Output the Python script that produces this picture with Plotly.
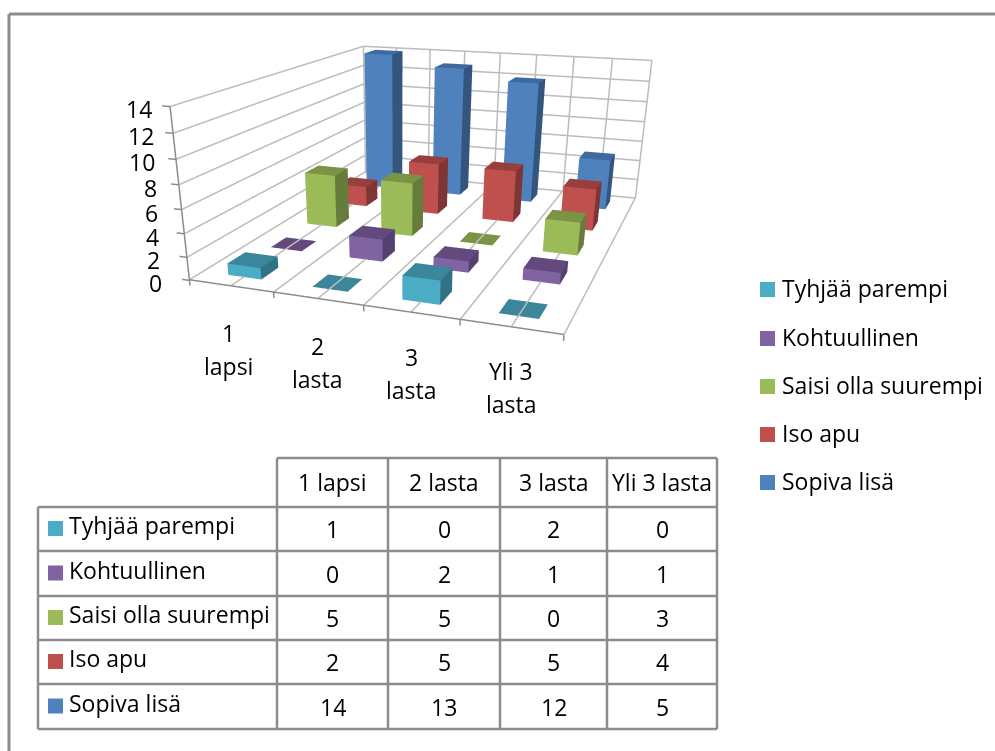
import plotly.graph_objects as go

WIDTH, HEIGHT = 995, 751

categories = ["1 lapsi", "2 lasta", "3 lasta", "Yli 3 lasta"]
category_lines = [["1", "lapsi"], ["2", "lasta"], ["3", "lasta"], ["Yli 3", "lasta"]]
series_names = ["Tyhjää parempi", "Kohtuullinen", "Saisi olla suurempi", "Iso apu", "Sopiva lisä"]
tyhjaa = [1, 0, 2, 0]
kohtuullinen = [0, 2, 1, 1]
saisi = [5, 5, 0, 3]
iso_apu = [2, 5, 5, 4]
sopiva = [14, 13, 12, 5]
series_values = [tyhjaa, kohtuullinen, saisi, iso_apu, sopiva]
z_ticks = [0, 2, 4, 6, 8, 10, 12, 14]

front_colors = ["#4BACC6", "#8064A2", "#9BBB59", "#C0504D", "#4F81BD"]
top_colors = ["#3B869B", "#64497F", "#7A9345", "#973F3D", "#3E6AA0"]
side_colors = ["#327286", "#54416F", "#667C3B", "#7F3533", "#34557D"]

# scene box: one unit per category / series, padded so tick marks are not clipped
X_RANGE, Y_RANGE, Z_RANGE = (-0.4, 4.4), (-0.4, 5.4), (-1, 15)
KX, KY, KZ = 0.25, 0.24337, 0.03210
EYE = dict(x=0.8166, y=-2.5247, z=0.6373)
CENTER = dict(x=0.0658, y=-0.5311, z=-0.4428)
SCENE_RIGHT_PX = 799.36

BAR = 0.2          # half width of a column in category units
FLOOR = 0.06       # floor lines sit just above the zero-height columns

traces = []
for j, vals in enumerate(series_values):
    xs, ys, zs, I, J, K, fc = [], [], [], [], [], [], []
    for i, v in enumerate(vals):
        n = len(xs)
        x0, x1 = i + 0.5 - BAR, i + 0.5 + BAR
        y0, y1 = j + 0.5 - BAR, j + 0.5 + BAR
        for a, b, c in [(x0, y0, 0), (x1, y0, 0), (x1, y1, 0), (x0, y1, 0),
                        (x0, y0, v), (x1, y0, v), (x1, y1, v), (x0, y1, v)]:
            xs.append(a); ys.append(b); zs.append(c)
        faces = [((4, 5, 6), top_colors[j]), ((4, 6, 7), top_colors[j])]
        if v > 0:
            faces += [((0, 1, 5), front_colors[j]), ((0, 5, 4), front_colors[j]),
                      ((1, 2, 6), side_colors[j]), ((1, 6, 5), side_colors[j])]
        for (a, b, c), col in faces:
            I.append(n + a); J.append(n + b); K.append(n + c); fc.append(col)
    traces.append(go.Mesh3d(x=xs, y=ys, z=zs, i=I, j=J, k=K, facecolor=fc, flatshading=True,
                            lighting=dict(ambient=1, diffuse=0, specular=0, fresnel=0, roughness=1),
                            hoverinfo="skip", name=series_names[j]))


def add_lines(segments, color, width):
    xs, ys, zs = [], [], []
    for a, b in segments:
        xs += [a[0], b[0], None]; ys += [a[1], b[1], None]; zs += [a[2], b[2], None]
    traces.append(go.Scatter3d(x=xs, y=ys, z=zs, mode="lines", line=dict(color=color, width=width),
                               hoverinfo="skip", showlegend=False))


# wall and floor gridlines
grid = []
for v in z_ticks:
    level = v + (FLOOR if v == 0 else 0)
    grid.append(((0, 0, level), (0, 5, level)))
    grid.append(((0, 5, v), (4, 5, v)))
for k in range(9):
    x = k / 2
    grid.append(((x, 0, FLOOR), (x, 5, FLOOR)))
    grid.append(((x, 5, 0), (x, 5, 14)))
add_lines(grid, "#bcbcbc", 3)

# axis lines and tick marks
axes = [((0, 0, 0), (0, 0, 14)), ((0, 0, FLOOR), (4, 0, FLOOR))]
axes += [((0, 0, v), (-0.09, 0, v)) for v in z_ticks]
axes += [((k, 0, 0), (k, 0, -0.45)) for k in range(5)]
add_lines(axes, "#8c8c8c", 3)

fig = go.Figure(traces)

FONT = "Open Sans"
TEXT = "#000000"
FS = 23
LINE = "#8c8c8c"


def sx(x):
    return x / WIDTH


def sy(y):
    return 1 - y / HEIGHT


shapes, anns = [], []


def hline(x0, x1, y, w=2.5):
    shapes.append(dict(type="line", xref="paper", yref="paper", x0=sx(x0), x1=sx(x1), y0=sy(y), y1=sy(y),
                       line=dict(color=LINE, width=w)))


def vline(x, y0, y1, w=2.5):
    shapes.append(dict(type="line", xref="paper", yref="paper", x0=sx(x), x1=sx(x), y0=sy(y0), y1=sy(y1),
                       line=dict(color=LINE, width=w)))


def swatch(x, y, col):
    shapes.append(dict(type="rect", xref="paper", yref="paper", x0=sx(x), x1=sx(x + 15), y0=sy(y), y1=sy(y + 15),
                       fillcolor=col, line=dict(width=0)))


def label(x, y, text, anchor="left"):
    anns.append(dict(xref="paper", yref="paper", x=sx(x), y=sy(y), text=text, showarrow=False, xanchor=anchor,
                     yanchor="middle", font=dict(family=FONT, size=FS, color=TEXT)))


# outer frame
hline(9, 995, 14, 3)
vline(9, 14, 751, 3)

# legend
legend_y = [282, 331, 379, 427, 475]
for name, col, y in zip(series_names, front_colors, legend_y):
    swatch(760, y, col)
    label(780, y + 6, name)

# data table
col_x = [38, 277, 388, 500, 607, 717]
row_y = [458, 507, 551, 596, 640, 684, 729]
for x in col_x[1:]:
    vline(x, row_y[0], row_y[-1])
vline(col_x[0], row_y[1], row_y[-1])
hline(col_x[1], col_x[-1], row_y[0])
for y in row_y[1:]:
    hline(col_x[0], col_x[-1], y)
for c, name in enumerate(categories):
    label((col_x[c + 1] + col_x[c + 2]) / 2, (row_y[0] + row_y[1]) / 2 - 1, name, "center")
for j, name in enumerate(series_names):
    cy = (row_y[j + 1] + row_y[j + 2]) / 2
    swatch(48, cy - 8, front_colors[j])
    label(67, cy - 4, name)
    for c, v in enumerate(series_values[j]):
        label((col_x[c + 1] + col_x[c + 2]) / 2, cy, str(v), "center")

# axis labels anchored to the scene
scene_anns = []
for v in z_ticks:
    scene_anns.append(dict(x=0, y=0, z=v, text=str(v), showarrow=False, xanchor="right", yanchor="middle",
                           xshift=-26 + 10 * v / 14, yshift=-3, font=dict(family=FONT, size=FS, color=TEXT)))
label_nudge = [(-2, -2), (-1, -3), (0, 0), (0, 1)]
for i, lines in enumerate(category_lines):
    for n, t in enumerate(lines):
        scene_anns.append(dict(x=i + 0.5, y=0, z=0, text=t, showarrow=False, xanchor="center", yanchor="middle",
                               xshift=label_nudge[i][0], yshift=-44 - 33 * n + label_nudge[i][1],
                               font=dict(family=FONT, size=FS, color=TEXT)))


def ar(rng, k):
    return (rng[1] - rng[0]) * k


hidden = dict(visible=False, showgrid=False, zeroline=False, showticklabels=False, showbackground=False,
              showspikes=False)
fig.update_layout(
    width=WIDTH, height=HEIGHT, margin=dict(l=0, r=0, t=0, b=0), paper_bgcolor="white", showlegend=False,
    shapes=shapes, annotations=anns,
    scene=dict(
        domain=dict(x=[0, sx(SCENE_RIGHT_PX)], y=[0, 1]),
        xaxis=dict(hidden, range=list(X_RANGE)),
        yaxis=dict(hidden, range=list(Y_RANGE)),
        zaxis=dict(hidden, range=list(Z_RANGE)),
        aspectmode="manual",
        aspectratio=dict(x=ar(X_RANGE, KX), y=ar(Y_RANGE, KY), z=ar(Z_RANGE, KZ)),
        camera=dict(eye=EYE, center=CENTER, up=dict(x=0, y=0, z=1), projection=dict(type="perspective")),
        annotations=scene_anns, bgcolor="rgba(0,0,0,0)",
    ),
)
fig.write_html("out.html")
